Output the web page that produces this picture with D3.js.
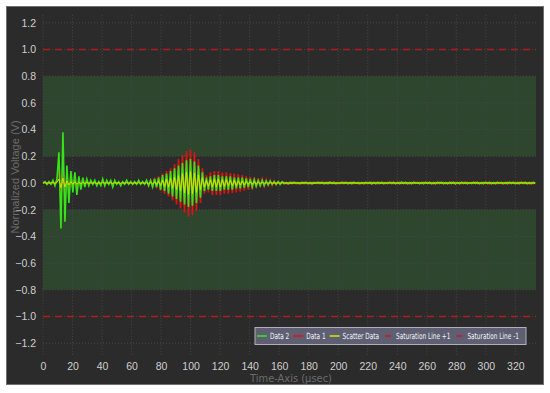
<!DOCTYPE html>
<html>
<head>
<meta charset="utf-8">
<script src="https://cdn.jsdelivr.net/npm/d3@7"></script>
<style>
  body { margin: 0; background: #fff; }
  svg { display: block; font-family: "Liberation Sans Narrow", "DejaVu Sans Condensed", "Liberation Sans", sans-serif; }
</style>
</head>
<body>
<svg id="chart" width="550" height="393"></svg>
<script>
// sampling interval of the three traces (usec)
const timeStep = 1.35;

// Data 2 (green)
const data2 = [
  0, .01, -.01, .01, -.01, .02, -.02, .03,
  .23, -.34, .38, -.29, .13, -.15, .09, -.07, .08, -.09, .05, -.05, .04, -.03, .03, -.02,
  .02, -.01, .02, -.02, .01, -.02, .03, -.02, .02, -.01, .02, -.03, .02, -.01, .01, -.02,
  .01, -.01, .02, -.01, .01, -.01, .01, -.01, .02, -.01, .01, -.01, .02,
  -.02, .02, -.03, .03, -.03, .04, -.05, .06, -.06, .07, -.08, .09, -.10, .11, -.12, .13,
  -.14, .15, -.16, .17, -.18, .18, -.17, .16, -.15, .13, -.11, .08, -.06,
  .04, -.05, .05, -.06, .06, -.06, .06, -.06, .05, -.05, .05, -.05, .05, -.05, .04, -.04,
  .04, -.04, .04, -.035, .035, -.03, .03, -.03, .025, -.025, .02, -.02, .02, -.02, .015,
  -.015, .015, -.01, .01, -.01, .01, -.01, .01,
  -.006, .004, -.007, .005, -.004, .006, -.005, .003, -.006, .005,
  -.004, .006, -.005, .004, -.007, .005, -.003, .006, -.004, .005,
  -.006, .004, -.005, .007, -.004, .005, -.006, .003, -.005, .006,
  -.004, .005, -.006, .004, -.005, .006, -.003, .005, -.006, .004,
  -.005, .006, -.004, .005, -.007, .004, -.005, .006, -.004, .005,
  -.006, .003, -.005, .006, -.004, .005, -.006, .004, -.005, .007,
  -.004, .005, -.006, .004, -.005, .006, -.003, .005, -.006, .004,
  -.005, .006, -.004, .005, -.006, .004, -.005, .006, -.004, .005,
  -.006, .004, -.005, .006, -.004, .005, -.007, .004, -.005, .006,
  -.004, .005, -.006, .003, -.005, .006, -.004, .005, -.006, .004,
  -.005, .006, -.004, .005, -.006, .004, -.005, .006, -.003, .005,
  -.006, .004, -.005, .006, -.004, .005, -.006, .004, -.005, .006,
  -.004, .005, -.006, .004, -.005, .006, -.004
];

// Data 1 (red)
const data1 = [
  0, .005, -.005, .005, -.01, .01, -.01, .02,
  .10, -.12, .13, -.11, .07, -.06, .04, -.04, .03, -.04, .02, -.02, .02, -.015, .015, -.01,
  .01, -.005, .01, -.01, .005, -.01, .015, -.01, .01, -.005, .01, -.015, .01, -.005, .005, -.01,
  .005, -.005, .01, -.005, .005, -.005, .005, -.005, .01, -.005, .005, -.005, .01,
  -.02, .02, -.03, .04, -.04, .05, -.06, .07, -.08, .09, -.10, .11, -.13, .14, -.16, .18,
  -.19, .21, -.22, .24, -.25, .25, -.24, .23, -.21, .18, -.15, .11, -.08,
  .06, -.07, .08, -.09, .09, -.09, .09, -.09, .08, -.08, .08, -.08, .075, -.075, .07, -.07,
  .065, -.065, .06, -.055, .05, -.05, .045, -.045, .04, -.035, .035, -.03, .03, -.025, .025,
  -.02, .02, -.02, .015, -.015, .01, -.01, .01,
  .005, -.007, .004, -.006, .008, -.004, .006, -.007, .004, -.005,
  .007, -.005, .004, -.008, .006, -.004, .007, -.005, .006, -.004,
  .005, -.007, .008, -.004, .006, -.005, .004, -.007, .006, -.005,
  .007, -.004, .005, -.006, .008, -.005, .004, -.007, .005, -.006,
  .004, -.007, .006, -.005, .007, -.004, .006, -.008, .005, -.004,
  .006, -.005, .007, -.004, .005, -.007, .004, -.006, .008, -.005,
  .005, -.006, .004, -.007, .006, -.005, .008, -.004, .005, -.006,
  .007, -.004, .006, -.005, .004, -.008, .006, -.005, .007, -.004,
  .005, -.006, .004, -.007, .008, -.005, .006, -.004, .005, -.007,
  .006, -.005, .007, -.004, .005, -.006, .008, -.005, .004, -.006,
  .007, -.004, .005, -.008, .006, -.005, .004, -.007, .006, -.005,
  .004, -.006, .007, -.005, .006, -.004, .005, -.007, .008, -.004,
  .006, -.005, .004, -.007, .005, -.006, .004
];

// Scatter Data (yellow)
const scatterData = [
  0, .002, -.002, .002, -.002, .004, -.004, .004,
  .03, -.035, .035, -.03, .015, -.015, .01, -.01, .01, -.01, .005, -.005, .005, -.004, .004, -.003,
  .002, -.002, .002, -.004, .002, -.002, .004, -.002, .002, -.002, .002, -.004, .002, -.002, .002, -.002,
  .002, -.002, .002, -.002, .002, -.002, .002, -.002, .002, -.002, .002, -.002, .002,
  -.006, .006, -.008, .008, -.012, .013, -.018, .02, -.025, .03, -.03, .035, -.04, .045, -.05, .055,
  -.06, .07, -.075, .08, -.085, .085, -.08, .075, -.07, .06, -.05, .04, -.03,
  .02, -.025, .025, -.03, .03, -.03, .03, -.03, .025, -.025, .025, -.02, .02, -.02, .02, -.02,
  .015, -.015, .015, -.015, .01, -.01, .01, -.01, .01, -.01, .008, -.005, .005, -.004, .004,
  -.003, .003, -.002, .002, -.002, .002, -.001, .001,
  .001, -.001, .001, -.002, .001, -.001, .002, -.001, .001, -.001,
  .002, -.001, .001, -.001, .001, -.002, .001, -.001, .002, -.001,
  .001, -.001, .002, -.001, .001, -.002, .001, -.001, .001, -.001,
  .001, -.001, .002, -.001, .001, -.001, .001, -.002, .001, -.001,
  .002, -.001, .001, -.001, .001, -.001, .002, -.001, .001, -.002,
  .001, -.001, .001, -.001, .002, -.001, .001, -.001, .001, -.002,
  .001, -.001, .002, -.001, .001, -.001, .001, -.002, .001, -.001,
  .002, -.001, .001, -.001, .001, -.002, .001, -.001, .002, -.001,
  .001, -.001, .001, -.002, .001, -.001, .002, -.001, .001, -.001,
  .001, -.002, .001, -.001, .001, -.001, .002, -.001, .001, -.001,
  .002, -.001, .001, -.001, .001, -.002, .001, -.001, .001, -.001,
  .001, -.001, .002, -.001, .001, -.001, .001, -.002, .001, -.001,
  .002, -.001, .001, -.001, .001, -.002, .001
];

const xTicks = [0, 20, 40, 60, 80, 100, 120, 140, 160, 180, 200, 220, 240, 260, 280, 300, 320];
const yTicks = [-1.2, -1.0, -0.8, -0.6, -0.4, -0.2, 0.0, 0.2, 0.4, 0.6, 0.8, 1.0, 1.2];
const bands = [[0.2, 0.8], [-0.8, -0.2]];
const saturationLevels = [1, -1];
const seriesNames = ['Data 2', 'Data 1', 'Scatter Data', 'Saturation Line +1', 'Saturation Line -1'];

const colors = {
  'Data 2': '#38e21a',
  'Data 1': '#dd1414',
  'Scatter Data': '#d6e000',
  'Saturation Line +1': '#c41c1c',
  'Saturation Line -1': '#c41c1c'
};
const widths = { 'Data 2': 1.6, 'Data 1': 1.6, 'Scatter Data': 1 };

const svg = d3.select('#chart');
const xMax = 334;
const x = d3.scaleLinear().domain([0, xMax]).range([43, 536]);
const y = d3.scaleLinear().domain([-1.26, 1.26]).range([351.2, 14.8]);

// panel
svg.append('rect')
  .attr('x', 6.5).attr('y', 6.5).attr('width', 537).attr('height', 378)
  .attr('fill', '#2b2b2b').attr('stroke', '#707070');

// green tolerance bands
svg.selectAll('.band')
  .data(bands)
  .enter().append('rect')
  .attr('x', x(0))
  .attr('width', x(xMax) - x(0))
  .attr('y', d => y(d[1]))
  .attr('height', d => y(d[0]) - y(d[1]))
  .attr('fill', '#2d462d');

// grid
svg.append('g').selectAll('line')
  .data(xTicks)
  .enter().append('line')
  .attr('x1', d => x(d)).attr('x2', d => x(d))
  .attr('y1', y.range()[1]).attr('y2', 356)
  .attr('stroke', '#474747').attr('stroke-dasharray', '1,2');

svg.append('g').selectAll('line')
  .data(yTicks)
  .enter().append('line')
  .attr('x1', x(0)).attr('x2', x(xMax))
  .attr('y1', d => y(d)).attr('y2', d => y(d))
  .attr('stroke', '#474747').attr('stroke-dasharray', '1,2');

// saturation lines
svg.selectAll('.sat')
  .data(saturationLevels)
  .enter().append('line')
  .attr('x1', x(0)).attr('x2', x(xMax))
  .attr('y1', d => y(d)).attr('y2', d => y(d))
  .attr('stroke', '#b01c1c').attr('stroke-width', 1.6)
  .attr('stroke-dasharray', '7,5');

// traces
const line = d3.line()
  .x((d, i) => x(i * timeStep))
  .y(d => y(d));

[['Data 1', data1], ['Data 2', data2], ['Scatter Data', scatterData]].forEach(([name, values]) => {
  svg.append('path')
    .datum(values)
    .attr('d', line)
    .attr('fill', 'none')
    .attr('stroke', colors[name])
    .attr('stroke-width', widths[name]);
});

// axes
const yAxis = svg.append('g')
  .attr('transform', `translate(${x(0)},0)`)
  .call(d3.axisLeft(y).tickValues(yTicks).tickFormat(d3.format('.1f')).tickSize(0).tickPadding(7));
yAxis.select('.domain').remove();
yAxis.selectAll('text').attr('fill', '#cfcfcf').style('font-size', '10.5px');

const xAxis = svg.append('g')
  .attr('transform', `translate(0,${y.range()[0]})`)
  .call(d3.axisBottom(x).tickValues(xTicks).tickSize(0).tickPadding(11));
xAxis.select('.domain').remove();
xAxis.selectAll('text').attr('fill', '#cfcfcf').style('font-size', '10.5px');

// axis titles
svg.append('text')
  .attr('transform', 'translate(19,177) rotate(-90)')
  .attr('text-anchor', 'middle')
  .attr('fill', '#6c6c6c')
  .style('font-family', '"Liberation Sans", sans-serif')
  .style('font-size', '11px')
  .text('Normalized Voltage (V)');

svg.append('text')
  .attr('x', 291).attr('y', 382)
  .attr('text-anchor', 'middle')
  .attr('fill', '#6c6c6c')
  .style('font-size', '11px')
  .text('Time-Axis (µsec)');

// legend: laid out left to right, text squeezed to the narrow legend font
const legendLeft = 255, legendWidth = 271, ly = 336;
const legend = svg.append('g');
legend.append('rect')
  .attr('x', legendLeft).attr('y', 327.5)
  .attr('width', legendWidth).attr('height', 17)
  .attr('fill', '#5e5f73').attr('stroke', '#b0b0bc');

const items = seriesNames.map(name => {
  const g = legend.append('g');
  const t = g.append('text')
    .attr('fill', '#f2f2f2')
    .style('font-size', '8.5px')
    .text(name);
  return { name, g, len: t.node().getComputedTextLength() };
});
const swatch = 10, gapIn = 3, gapOut = 4;
const totalText = d3.sum(items, d => d.len);
const squeeze = Math.min(1, (legendWidth - 5 - items.length * (swatch + gapIn + gapOut)) / totalText);
let lx = legendLeft + 2;
items.forEach(it => {
  const dashed = it.name.startsWith('Saturation');
  legend.append('line')
    .attr('x1', dashed ? lx + 2 : lx).attr('x2', dashed ? lx + 8 : lx + swatch)
    .attr('y1', ly).attr('y2', ly)
    .attr('stroke', colors[it.name]).attr('stroke-width', 1.6);
  it.g.attr('transform', `translate(${lx + swatch + gapIn},${ly + 3}) scale(${squeeze},1)`);
  lx += swatch + gapIn + it.len * squeeze + gapOut;
});
</script>
</body>
</html>
